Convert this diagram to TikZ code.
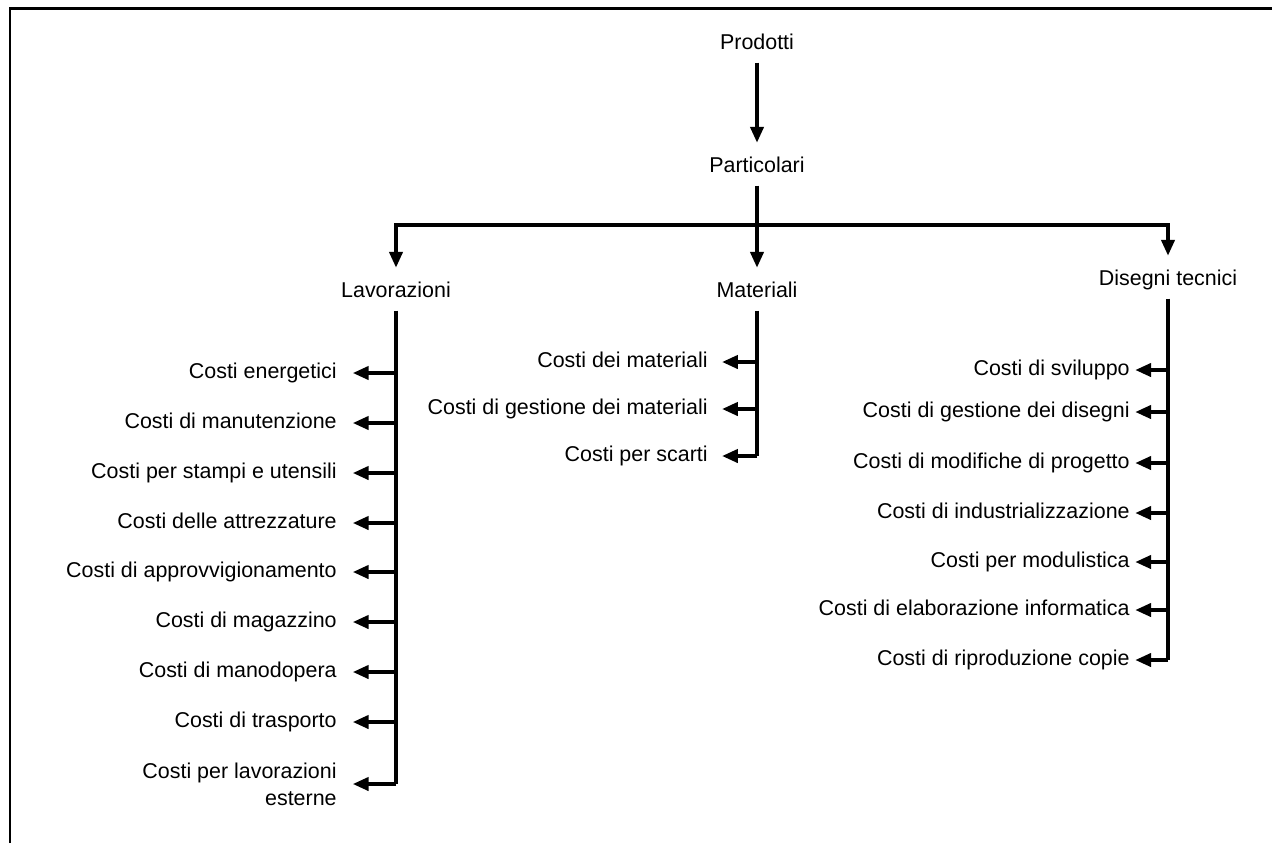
\documentclass[tikz,border=0pt]{standalone}
\usepackage{fontspec}
\setmainfont{Liberation Sans}
\usetikzlibrary{arrows.meta}

\begin{document}
\begin{tikzpicture}[x=0.02cm, y=-0.02cm, font=\fontsize{12.2}{14}\selectfont,
		livello/.style={anchor=base, text height=9pt, text depth=3pt, inner ysep=4.5pt},
		costo/.style={anchor=east, align=right, inner xsep=0pt, text height=9pt, text depth=3pt},
		costolungo/.style={anchor=east, align=right, inner sep=0pt, font=\fontsize{12.2}{15.5}\selectfont},
		freccia/.style={line width=2pt, -{Triangle[length=9pt, width=7.5pt]}},
		tronco/.style={line width=2pt}]
			\useasboundingbox (0, 0) rectangle (1272, 843);
			\draw[line width=1.7pt] (10, 843) -- (10, 8) -- (1272, 8);

			\node[livello] (prod) at (757, 49) {Prodotti};
			\node[livello] (part) at (757, 172) {Particolari};
			\node[livello] (lav) at (396, 297) {Lavorazioni};
			\node[livello] (mat) at (757, 297) {Materiali};
			\node[livello] (dis) at (1168, 285) {Disegni tecnici};
			\coordinate (bus) at (757, 225);

			\draw[freccia, shorten >=3pt] (prod) -- (part);
			\draw[freccia, shorten >=3pt] (part) -- (mat);
			\draw[freccia, shorten >=3pt] (bus) -| (lav.north);
			\draw[freccia, shorten >=3pt] (bus) -| (dis.north);

			\node[costo] (lav1) at (337, 373) {Costi energetici};
			\node[costo] (lav2) at (337, 423) {Costi di manutenzione};
			\node[costo] (lav3) at (337, 473) {Costi per stampi e utensili};
			\node[costo] (lav4) at (337, 523) {Costi delle attrezzature};
			\node[costo] (lav5) at (337, 572) {Costi di approvvigionamento};
			\node[costo] (lav6) at (337, 622) {Costi di magazzino};
			\node[costo] (lav7) at (337, 672) {Costi di manodopera};
			\node[costo] (lav8) at (337, 722) {Costi di trasporto};
			\node[costolungo] (lav9) at (337, 784) {Costi per lavorazioni\\esterne};

			\node[costo] (mat1) at (708, 362) {Costi dei materiali};
			\node[costo] (mat2) at (708, 409) {Costi di gestione dei materiali};
			\node[costo] (mat3) at (708, 456) {Costi per scarti};

			\node[costo] (dis1) at (1130, 370) {Costi di sviluppo};
			\node[costo] (dis2) at (1130, 412) {Costi di gestione dei disegni};
			\node[costo] (dis3) at (1130, 463) {Costi di modifiche di progetto};
			\node[costo] (dis4) at (1130, 513) {Costi di industrializzazione};
			\node[costo] (dis5) at (1130, 562) {Costi per modulistica};
			\node[costo] (dis6) at (1130, 610) {Costi di elaborazione informatica};
			\node[costo] (dis7) at (1130, 660) {Costi di riproduzione copie};

			\draw[tronco] (lav.south) -- (lav.south |- lav9.east);
			\draw[tronco] (mat.south) -- (mat.south |- mat3.east);
			\draw[tronco] (dis.south) -- (dis.south |- dis7.east);

			\draw[freccia, shorten >=9pt] (lav.south |- lav1.east) -- (lav1.east);
			\draw[freccia, shorten >=9pt] (lav.south |- lav2.east) -- (lav2.east);
			\draw[freccia, shorten >=9pt] (lav.south |- lav3.east) -- (lav3.east);
			\draw[freccia, shorten >=9pt] (lav.south |- lav4.east) -- (lav4.east);
			\draw[freccia, shorten >=9pt] (lav.south |- lav5.east) -- (lav5.east);
			\draw[freccia, shorten >=9pt] (lav.south |- lav6.east) -- (lav6.east);
			\draw[freccia, shorten >=9pt] (lav.south |- lav7.east) -- (lav7.east);
			\draw[freccia, shorten >=9pt] (lav.south |- lav8.east) -- (lav8.east);
			\draw[freccia, shorten >=9pt] (lav.south |- lav9.east) -- (lav9.east);

			\draw[freccia, shorten >=8pt] (mat.south |- mat1.east) -- (mat1.east);
			\draw[freccia, shorten >=8pt] (mat.south |- mat2.east) -- (mat2.east);
			\draw[freccia, shorten >=8pt] (mat.south |- mat3.east) -- (mat3.east);

			\draw[freccia, shorten >=3pt] (dis.south |- dis1.east) -- (dis1.east);
			\draw[freccia, shorten >=3pt] (dis.south |- dis2.east) -- (dis2.east);
			\draw[freccia, shorten >=3pt] (dis.south |- dis3.east) -- (dis3.east);
			\draw[freccia, shorten >=3pt] (dis.south |- dis4.east) -- (dis4.east);
			\draw[freccia, shorten >=3pt] (dis.south |- dis5.east) -- (dis5.east);
			\draw[freccia, shorten >=3pt] (dis.south |- dis6.east) -- (dis6.east);
			\draw[freccia, shorten >=3pt] (dis.south |- dis7.east) -- (dis7.east);
		\end{tikzpicture}
\end{document}
